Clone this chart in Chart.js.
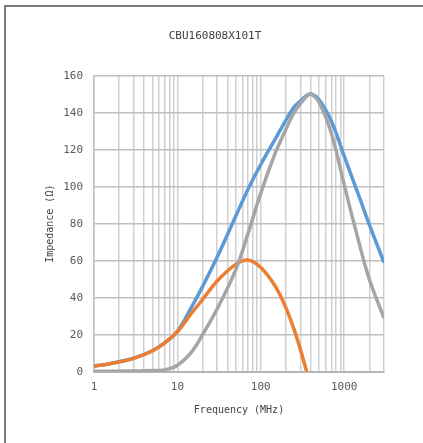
<!DOCTYPE html>
<html>
<head>
<meta charset="utf-8">
<script src="https://cdn.jsdelivr.net/npm/chart.js@4.4.0/dist/chart.umd.min.js"></script>
<style>
  html, body { margin: 0; padding: 0; background: #ffffff; }
  #wrap { position: relative; width: 423px; height: 443px; overflow: hidden; }
  #frame { position: absolute; left: 4px; top: 5px; right: -10px; bottom: -10px;
           border-top: 2px solid #7a7a7a; border-left: 2px solid #7a7a7a; pointer-events: none; }
  canvas { position: absolute; left: 0; top: 0; }
</style>
</head>
<body>
<div id="wrap">
  <canvas id="c" width="423" height="443"></canvas>
  <div id="frame"></div>
</div>
<script>
const chartTitle = 'CBU160808X101T';
const xAxisTitle = 'Frequency (MHz)';
const yAxisTitle = 'Impedance (\u03A9)';

// Frequency (MHz)
const freq = [1, 1.5, 2, 3, 5, 7, 10, 15, 20, 30, 50, 70, 100, 150, 200, 250, 300, 355, 400, 500, 700, 1000, 1500, 2000, 3000];
// |Z| impedance (blue)
const impedanceZ = [3.1, 4.2, 5.4, 7.3, 11.3, 15.6, 21.8, 35.5, 46, 62, 84, 98.5, 112, 126, 136, 143, 146.5, 149.3, 150.2, 147, 135.5, 116.5, 95, 79.5, 59];
// X reactance (orange)
const reactanceX = [3, 4.2, 5.3, 7.2, 11.2, 15.5, 21.6, 32, 39, 49, 58, 60.4, 56.3, 46, 34.5, 23, 11.6, 0, null, null, null, null, null, null, null];
// R resistance (gray)
const resistanceR = [0.3, 0.3, 0.3, 0.4, 0.6, 1, 3.5, 11, 20, 34, 55, 74.5, 96.5, 118.5, 131, 140, 145, 148.8, 150, 145.5, 129, 101, 70, 50, 29];

const xTickLabels = [1, 10, 100, 1000];
const yTicks = [0, 20, 40, 60, 80, 100, 120, 140, 160];

function pts(ys) {
  const out = [];
  for (let i = 0; i < freq.length; i++) {
    if (ys[i] !== null && ys[i] !== undefined) out.push({ x: freq[i], y: ys[i] });
  }
  return out;
}

const monoFont = "'DejaVu Sans Mono', 'Liberation Mono', monospace";

new Chart(document.getElementById('c'), {
  type: 'line',
  data: {
    datasets: [
      { label: 'Z', data: pts(impedanceZ), borderColor: '#5B9BD5', order: 3 },
      { label: 'X', data: pts(reactanceX), borderColor: '#ED7D31', order: 2 },
      { label: 'R', data: pts(resistanceR), borderColor: '#A5A5A5', order: 1 }
    ]
  },
  options: {
    responsive: false,
    animation: false,
    devicePixelRatio: 1,
    layout: { padding: { left: 46, right: 39, top: 0, bottom: 0 } },
    elements: {
      line: { borderWidth: 3.5, tension: 0.4, fill: false },
      point: { radius: 0 }
    },
    plugins: {
      legend: { display: false },
      tooltip: { enabled: false },
      title: {
        display: true,
        text: chartTitle,
        color: '#404040',
        font: { family: monoFont, size: 11, weight: 'normal' },
        padding: { top: 30, bottom: 32.5 }
      }
    },
    scales: {
      x: {
        type: 'logarithmic',
        position: 'bottom',
        min: 1,
        max: 3000,
        afterBuildTicks: (scale) => {
          const t = [];
          for (let d = 1; d <= 1000; d *= 10) {
            for (let m = 1; m <= 9; m++) {
              const v = d * m;
              if (v <= 3000) t.push({ value: v });
            }
          }
          scale.ticks = t;
        },
        afterFit: (scale) => { scale.height = 71.3; },
        ticks: {
          autoSkip: false,
          maxRotation: 0,
          padding: 9,
          color: '#595959',
          font: { family: monoFont, size: 11 },
          callback: function (value) {
            return xTickLabels.includes(value) ? String(value) : '';
          }
        },
        grid: { color: '#D0D0D0', lineWidth: 1.5, drawTicks: false },
        border: { display: true, color: '#B5B5B5', width: 2 },
        title: {
          display: true,
          text: xAxisTitle,
          color: '#404040',
          font: { family: monoFont, size: 10 },
          padding: { top: 0, bottom: 26.5 }
        }
      },
      y: {
        type: 'linear',
        position: 'left',
        min: 0,
        max: 160,
        afterBuildTicks: (scale) => { scale.ticks = yTicks.map(v => ({ value: v })); },
        afterFit: (scale) => { scale.width = 48; },
        ticks: {
          padding: 11,
          color: '#595959',
          font: { family: monoFont, size: 11 }
        },
        grid: { color: '#BFBFBF', lineWidth: 1.5, drawTicks: false },
        border: { display: true, color: '#C0C0C0', width: 1.5 },
        title: {
          display: true,
          text: yAxisTitle,
          color: '#404040',
          font: { family: monoFont, size: 10 },
          padding: { top: -2, bottom: 0 }
        }
      }
    }
  }
});
</script>
</body>
</html>
